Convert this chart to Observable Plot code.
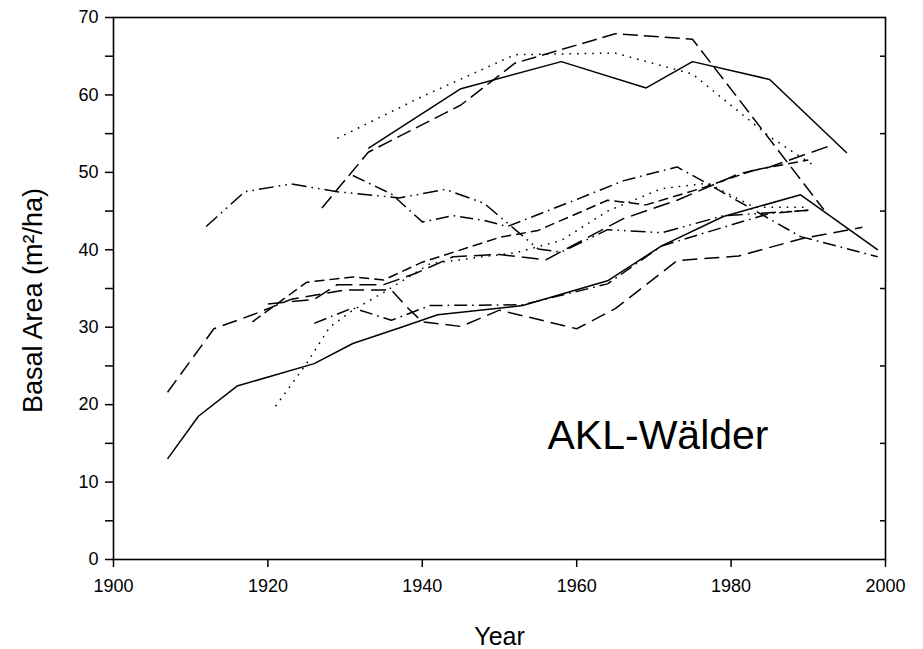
<!DOCTYPE html>
<html>
<head>
<meta charset="utf-8">
<script src="https://cdn.jsdelivr.net/npm/d3@7"></script>
<script src="https://cdn.jsdelivr.net/npm/@observablehq/plot@0.6"></script>
<style>
  html, body { margin: 0; padding: 0; background: #fff; }
  #chart { width: 923px; height: 649px; }
  #chart svg [aria-label*="axis"],
  #chart svg [aria-label*="axis"] text { font-size: 18px !important; font-family: 'Liberation Sans', Arial, sans-serif !important; }
</style>
</head>
<body>
<div id="chart"></div>
<script>
// ---- data: [year, basal area m²/ha] per stand ----
const solidLow = [[1907,13],[1911,18.5],[1916,22.4],[1926,25.3],[1931,27.9],[1937,29.9],[1942,31.6],[1953,32.8],[1964,36.0],[1971,40.5],[1979,44.3],[1989,47.1],[1999,40.0]];
const solidTop = [[1933,53.1],[1945,60.8],[1958,64.3],[1969,60.9],[1975,64.3],[1985,62.0],[1995,52.5]];
const dottedTop = [[1929,54.4],[1940,59.8],[1952,65.2],[1965,65.4],[1975,62.7],[1985,54.6],[1991,50.7]];
const longDashTop = [[1927,45.4],[1933,52.6],[1945,58.7],[1952,64.1],[1965,67.9],[1975,67.2],[1992,45.2]];
const dashDotDotA = [[1912,43.0],[1917,47.5],[1923,48.5],[1929,47.5],[1937,46.7],[1943,47.8],[1948,46.0],[1955,40.1],[1958,39.7],[1964,42.6],[1971,42.2],[1979,44.4],[1990,45.1]];
const dashDotB = [[1931,49.6],[1936,47.2],[1940,43.6],[1944,44.4],[1948,43.8],[1951,43.0],[1960,46.5],[1966,48.9],[1973,50.7],[1977,48.5],[1989,41.7],[1999,39.1]];
const longDashLow = [[1907,21.6],[1913,29.8],[1918,31.6],[1923,33.6],[1930,34.8],[1936,34.8],[1938,32.6],[1940,30.7],[1945,30.1],[1950,32.2],[1960,29.8],[1965,32.4],[1973,38.6],[1981,39.2],[1989,41.4],[1997,42.9]];
const dottedMid = [[1921,19.8],[1925,25.3],[1928,30.0],[1931,32.2],[1935,34.5],[1941,38.2],[1947,39.0],[1952,39.6],[1958,41.2],[1964,45.0],[1971,47.9],[1977,48.6],[1983,45.5],[1990,45.5]];
const dashDotC = [[1926,30.5],[1931,32.5],[1936,30.9],[1941,32.8],[1953,32.9],[1964,35.6],[1971,40.5],[1985,44.7],[1990,45.1]];
const dashD = [[1918,30.7],[1925,35.8],[1931,36.5],[1935,36.1],[1940,38.4],[1950,41.6],[1955,42.5],[1964,46.4],[1969,45.8],[1976,47.9],[1983,50.3],[1990,51.6]];
const longDashE = [[1920,33.0],[1926,33.6],[1929,35.5],[1935,35.5],[1939,36.9],[1944,39.1],[1950,39.4],[1956,38.7],[1962,41.9],[1966,44.0],[1973,46.4],[1981,49.8],[1985,50.7],[1993,53.5]];

const xTicks = [1900, 1920, 1940, 1960, 1980, 2000];
const yTicks = [0, 5, 10, 15, 20, 25, 30, 35, 40, 45, 50, 55, 60, 65, 70];
const yRightTicks = [5, 15, 25, 35, 45, 55, 65];
const xLabel = "Year";
const yLabel = "Basal Area (m²/ha)";
const panelLabel = "AKL-Wälder";

// ---- styles ----
const series = [
  {data: solidLow, dash: null},
  {data: solidTop, dash: null},
  {data: dottedTop, dash: "1.6,6"},
  {data: longDashTop, dash: "15,6"},
  {data: dashDotDotA, dash: "15,5,1.6,5,1.6,5"},
  {data: dashDotB, dash: "13,5,1.6,5"},
  {data: longDashLow, dash: "15,7"},
  {data: dottedMid, dash: "1.6,6"},
  {data: dashDotC, dash: "13,5,1.6,5"},
  {data: dashD, dash: "10,5"},
  {data: longDashE, dash: "17,7"}
];

const W = 923, H = 649, mL = 113, mR = 38, mT = 17, mB = 90;
const innerW = W - mL - mR;

const lineMarks = series.map(s => Plot.line(s.data, {
  x: d => d[0], y: d => d[1],
  stroke: "black", strokeWidth: 1.5,
  strokeDasharray: s.dash, strokeLinecap: "butt", strokeLinejoin: "miter"
}));

const chart = Plot.plot({
  width: W, height: H,
  marginLeft: mL, marginRight: mR, marginTop: mT, marginBottom: mB,
  x: {domain: [1900, 2000]},
  y: {domain: [0, 70]},
  style: {fontFamily: "'Liberation Sans', Arial, sans-serif", fontSize: "17px", color: "black", background: "white"},
  marks: [
    Plot.axisY({ticks: yTicks, tickSize: 8, tickPadding: 7, strokeWidth: 1.5, fontSize: 18,
      tickFormat: d => d % 10 === 0 ? String(d) : "", label: null}),
    Plot.axisX({ticks: xTicks, tickSize: 8, tickPadding: 12, strokeWidth: 1.5, fontSize: 18,
      tickFormat: d => String(d), label: null}),
    Plot.tickY(yRightTicks, {y: d => d, insetLeft: innerW - 5, stroke: "black", strokeWidth: 1.5}),
    ...lineMarks,
    Plot.frame({stroke: "black", strokeWidth: 1.6}),
    Plot.text([panelLabel], {frameAnchor: "bottom-right", textAnchor: "end", lineAnchor: "bottom",
      dx: -117, dy: -111, fontSize: 41, fill: "black"}),
    Plot.text([xLabel], {frameAnchor: "bottom", textAnchor: "middle", lineAnchor: "middle", dy: 77, fontSize: 25, fill: "black"}),
    Plot.text([yLabel], {frameAnchor: "left", textAnchor: "middle", rotate: -90, lineAnchor: "middle", dx: -80, dy: 12, fontSize: 27, fill: "black"})
  ]
});
document.getElementById("chart").appendChild(chart);
</script>
</body>
</html>
